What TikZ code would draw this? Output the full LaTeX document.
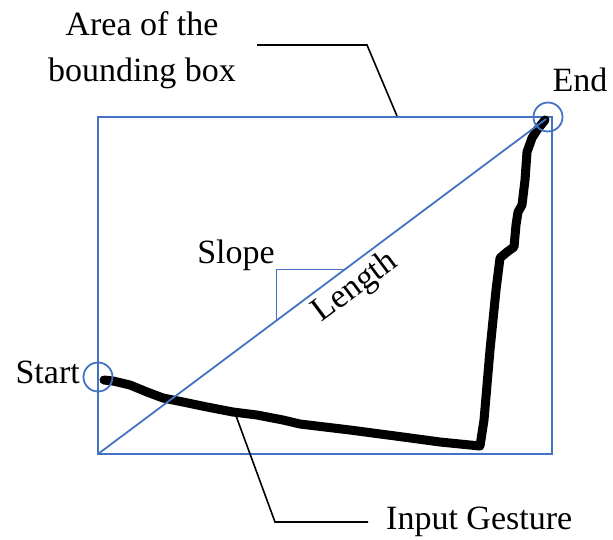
\documentclass[tikz,border=0pt]{standalone}
\usepackage{fontspec}
\setmainfont{Liberation Serif}
\definecolor{boxblue}{RGB}{68,114,196}
\tikzset{
  lbl/.style={font=\fontsize{34}{46}\selectfont, inner sep=0pt, text=black},
  bluebox/.style={draw=boxblue, line width=2pt},
  blueline/.style={draw=boxblue, line width=1.8pt},
  thinblue/.style={draw=boxblue, line width=1pt},
  leader/.style={draw=black, line width=1.6pt},
  endcirc/.style={draw=boxblue, line width=1.8pt, circle, minimum size=29pt, inner sep=0pt},
  gesture/.style={draw=black, line width=9pt, line join=round, line cap=round}
}
\begin{document}
\begin{tikzpicture}[x=1pt,y=-1pt]
\useasboundingbox (0,0) rectangle (613,539);
% bounding box
\coordinate (bl) at (98,454);
\coordinate (tr) at (552,117);
\draw[bluebox] (bl) rectangle (tr);
% gesture
\draw[gesture] (104,380) -- (113,381) -- (130,385) -- (147,392) -- (163,398) -- (183,402)
  -- (207,407) -- (233,412) -- (257,415) -- (283,420) -- (300,424) -- (350,430)
  -- (403,437) -- (440,442) -- (480,446) -- (484,420) -- (490,350) -- (496,290)
  -- (500,258) -- (507,252) -- (514,247) -- (516,225) -- (518,212) -- (522,205)
  -- (525,180) -- (527,152) -- (532,138) -- (537,130) -- (545,120);
% diagonal
\coordinate (endpt) at (546,119);
\draw[blueline] (bl) -- (endpt);
% circles
\node[endcirc] (endc) at (548,117) {};
\node[endcirc] (startc) at (98,377) {};
% labels
\node[lbl] (endlbl) at (580,80) {End};
\node[lbl, anchor=east] (startlbl) at (80,372) {Start};
\node[lbl, align=center] (arealbl) at (142,50) {Area of the\\bounding box};
\node[lbl] (slopelbl) at (236,255) {Slope};
\node[lbl, anchor=west] (inputlbl) at (386,522) {Input Gesture};
% length label along diagonal
\node[lbl, rotate=36.8, anchor=north] (lenlbl) at (346,275) {Length};
% slope bracket
\coordinate (s1) at (276,321);
\coordinate (s2) at (276,269);
\coordinate (s3) at (343,269);
\draw[thinblue] (s1) -- (s2) -- (s3);
% leaders
\coordinate (a1) at (257,45);
\coordinate (a2) at (367,45);
\coordinate (a3) at (397,116);
\draw[leader] (a1) -- (a2) -- (a3);
\coordinate (g1) at (235,413);
\coordinate (g2) at (275,522);
\coordinate (g3) at (368,522);
\draw[leader] (g1) -- (g2) -- (g3);
\end{tikzpicture}
\end{document}
